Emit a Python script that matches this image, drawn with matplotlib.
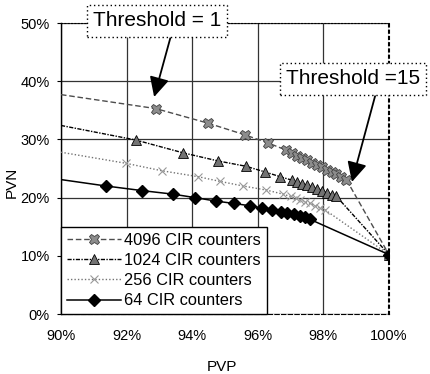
import matplotlib.pyplot as plt
import numpy as np

plt.rcParams['font.family'] = ['Liberation Sans', 'DejaVu Sans']

# PVP (%) / PVN (%), first point is the left edge of the plot
pvp_4096 = [90.0, 92.89, 94.48, 95.6, 96.31, 96.85, 97.05, 97.2, 97.35, 97.5, 97.65,
            97.8, 97.95, 98.1, 98.25, 98.4, 98.55, 98.7, 100.0]
pvn_4096 = [37.7, 35.3, 32.8, 30.8, 29.4, 28.2, 27.6, 27.2, 26.8, 26.4, 26.0,
            25.6, 25.2, 24.8, 24.4, 24.0, 23.6, 23.1, 10.2]

pvp_1024 = [90.0, 92.28, 93.72, 94.79, 95.63, 96.23, 96.68, 97.04, 97.2, 97.35,
            97.5, 97.65, 97.8, 97.95, 98.1, 98.25, 98.4, 100.0]
pvn_1024 = [32.4, 29.9, 27.7, 26.3, 25.4, 24.4, 23.6, 23.0, 22.7, 22.4,
            22.1, 21.8, 21.5, 21.2, 20.8, 20.5, 20.2, 10.2]

pvp_256 = [90.0, 91.98, 93.09, 94.18, 94.84, 95.55, 96.26, 96.77, 97.0, 97.15,
           97.3, 97.45, 97.6, 97.75, 97.9, 98.05, 100.0]
pvn_256 = [27.8, 25.9, 24.6, 23.6, 22.8, 22.0, 21.3, 20.6, 20.2, 19.9,
           19.6, 19.3, 19.0, 18.6, 18.2, 17.9, 10.2]

pvp_64 = [90.0, 91.37, 92.48, 93.41, 94.09, 94.73, 95.27, 95.76, 96.13, 96.42,
          96.7, 96.9, 97.1, 97.28, 97.43, 97.58, 100.0]
pvn_64 = [23.1, 22.0, 21.2, 20.6, 20.0, 19.4, 19.0, 18.6, 18.2, 17.9,
          17.6, 17.3, 17.1, 16.8, 16.6, 16.3, 10.2]

labels = ['4096 CIR counters', '1024 CIR counters', '256 CIR counters', '64 CIR counters']
x_ticks = [90, 92, 94, 96, 98, 100]
y_ticks = [0, 10, 20, 30, 40, 50]

fig = plt.figure(figsize=(4.31, 3.74), dpi=100)
ax = fig.add_axes([0.1415, 0.1604, 0.761, 0.778])

ax.plot(pvp_4096, pvn_4096, color='0.3', lw=1, dashes=(4, 2), marker='X', ms=7.5,
        mfc='0.55', mec='0.25', mew=0.6, markevery=slice(1, None), label=labels[0], zorder=3)
ax.plot(pvp_1024, pvn_1024, color='black', lw=1, dashes=(3, 1, 1, 1), marker='^', ms=6.5,
        mfc='0.45', mec='black', mew=0.6, markevery=slice(1, None), label=labels[1], zorder=4)
ax.plot(pvp_256, pvn_256, color='0.45', lw=1, dashes=(1, 1.5), marker='x', ms=6,
        mec='0.6', mew=0.8, markevery=slice(1, None), label=labels[2], zorder=4)
ax.plot(pvp_64, pvn_64, color='black', lw=1.1, marker='D', ms=6.5, mfc='black', mec='black',
        markevery=slice(1, None), label=labels[3], zorder=5)

ax.set_xlim(90, 100)
ax.set_ylim(0, 50)
ax.set_xticks(x_ticks)
ax.set_xticklabels(['%d%%' % v for v in x_ticks])
ax.set_yticks(y_ticks)
ax.set_yticklabels(['%d%%' % v for v in y_ticks])
ax.tick_params(axis='x', length=0, pad=11, labelsize=10.5)
ax.tick_params(axis='y', length=3, pad=5, labelsize=10.5, direction='out')
ax.grid(True, color='0.2', lw=0.9)
ax.set_axisbelow(True)

ax.spines['left'].set_linewidth(1)
ax.spines['bottom'].set_linestyle((0, (4, 2)))
ax.spines['top'].set_linestyle((0, (1, 2)))
ax.spines['right'].set_linestyle((0, (1, 2)))
ax.spines['right'].set_linewidth(1.5)

ax.set_xlabel('PVP', fontsize=11)
ax.set_ylabel('PVN', fontsize=11)
ax.xaxis.set_label_coords(0.491, -0.158)
ax.yaxis.set_label_coords(-0.128, 0.454)

leg = ax.legend(loc='lower left', bbox_to_anchor=(0, 0), fontsize=11.8, handlelength=3.3,
                labelspacing=0.32, borderpad=0.35, handletextpad=0.2, fancybox=False,
                framealpha=1, edgecolor='black', borderaxespad=0)
leg.get_frame().set_linewidth(1)
leg.set_zorder(10)

box = dict(boxstyle='square,pad=0.3', fc='white', ec='black', ls=(0, (1, 2)), lw=1)
ax.annotate('Threshold = 1', xy=(92.84, 37.3), xycoords='data',
            xytext=(157, 353), textcoords='figure pixels', fontsize=15,
            ha='center', va='center', bbox=box, annotation_clip=False, zorder=11,
            arrowprops=dict(arrowstyle='-|>,head_length=0.8,head_width=0.4', fc='black',
                            ec='black', lw=1.3, shrinkA=0, shrinkB=0, relpos=(0.62, 0)))
ax.annotate('Threshold =15', xy=(98.87, 22.7), xycoords='data',
            xytext=(353, 295), textcoords='figure pixels', fontsize=15,
            ha='center', va='center', bbox=box, annotation_clip=False, zorder=11,
            arrowprops=dict(arrowstyle='-|>,head_length=0.8,head_width=0.4', fc='black',
                            ec='black', lw=1.3, shrinkA=0, shrinkB=0, relpos=(0.68, 0)))

fig.savefig('out.png', dpi=100)
